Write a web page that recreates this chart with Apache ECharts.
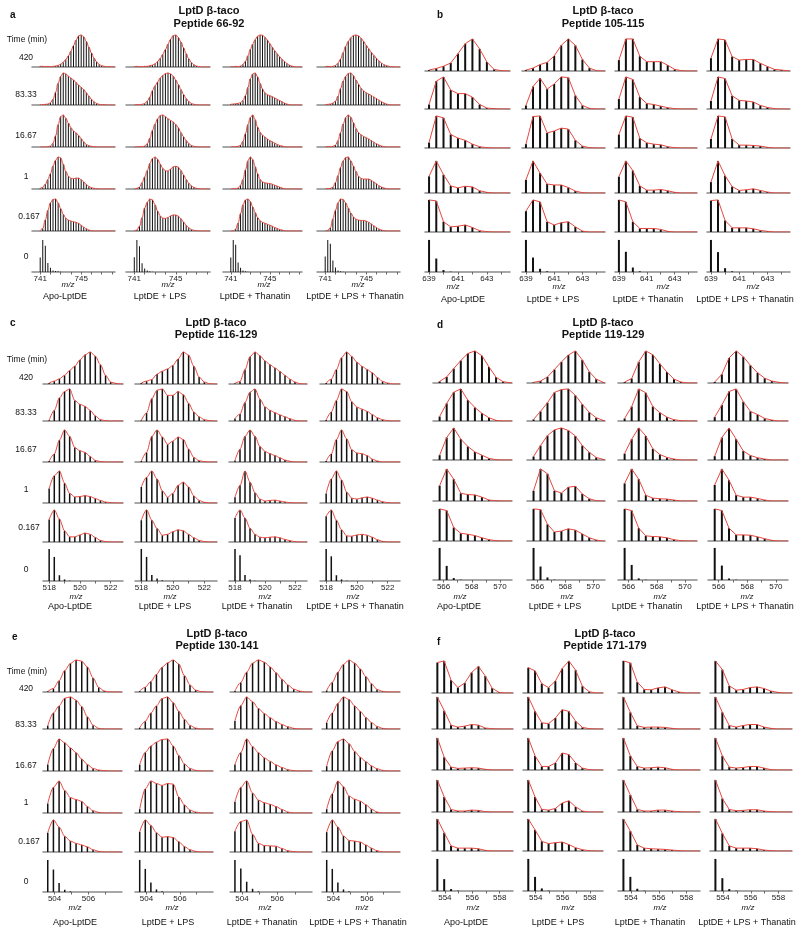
<!DOCTYPE html>
<html><head><meta charset="utf-8">
<script src="https://cdn.jsdelivr.net/npm/echarts@6/dist/echarts.min.js"></script>
<style>html,body{margin:0;padding:0;background:#fff}#c{width:800px;height:935px}</style>
</head><body><div id="c"></div>
<script>
// ---------- labels ----------
const timeLabels = ['420', '83.33', '16.67', '1', '0.167', '0'];
const conditions = ['Apo-LptDE', 'LptDE + LPS', 'LptDE + Thanatin', 'LptDE + LPS + Thanatin'];
const peptides = ['Peptide 66-92', 'Peptide 105-115', 'Peptide 116-129', 'Peptide 119-129', 'Peptide 130-141', 'Peptide 171-179'];
const protein = 'LptD \u03b2-taco';

// ---------- isotope stick intensities (rows: 420, 83.33, 16.67, 1, 0.167, 0 min) ----------
// panel a: first peak 741.00, spacing 0.25
const a_apo = [
 [2,2,1,2,1,2,3,5,9,15,23,35,50,67,84,97,100,94,80,62,44,28,16,8,4,2,1,1],
 [1,1,2,3,7,18,40,68,90,100,97,90,84,78,70,62,55,48,38,28,18,10,5,2,1,1,0,0],
 [0,0,0,1,3,12,35,70,95,100,90,75,60,50,44,36,26,16,8,4,2,1,0,0,0,0,0,0],
 [2,5,15,30,48,72,90,100,97,78,55,40,33,32,34,34,29,22,14,8,4,2,1,0,0,0,0,0],
 [1,8,35,65,88,98,100,88,70,52,40,34,31,29,27,24,18,12,7,3,1,0,0,0,0,0,0,0],
 [45,100,82,28,13,5,3,2,1]];
const a_lps = [
 [1,2,1,1,2,2,4,6,10,17,27,40,55,72,87,98,100,92,78,60,42,26,14,7,3,1,0,0],
 [0,1,1,2,5,12,25,45,60,72,84,92,98,100,97,90,78,64,48,33,20,11,5,2,1,0,0,0],
 [0,0,1,1,3,10,28,52,72,88,98,100,95,88,83,78,70,60,45,32,20,11,5,2,1,0,0,0],
 [0,2,6,20,38,58,80,95,100,93,78,64,57,56,62,69,71,68,58,44,30,18,10,5,2,1,0,0],
 [0,3,15,42,72,90,100,97,82,62,47,40,39,42,47,50,50,46,38,28,18,10,5,2,1,0,0,0],
 [46,100,80,27,11,5,2,1]];
const a_than = [
 [1,1,2,1,3,8,18,35,55,72,86,96,100,99,93,84,73,62,51,41,32,24,17,11,6,3,1,0],
 [2,3,4,5,8,14,30,55,82,97,100,88,68,50,38,32,29,26,22,18,14,10,6,3,1,0,0,0],
 [0,1,1,2,6,18,42,70,92,100,85,62,46,37,31,25,20,16,12,8,5,3,1,0,0,0,0,0],
 [0,1,1,3,12,30,60,88,100,92,70,48,30,22,19,18,17,15,12,9,6,3,1,0,0,0,0,0],
 [0,1,6,25,55,82,97,100,92,75,58,42,32,27,24,21,18,15,11,8,5,3,1,0,0,0,0,0],
 [45,100,85,30,13,5,2,1]];
const a_lpsthan = [
 [1,2,1,2,5,12,25,45,65,80,91,98,100,97,90,80,68,57,46,36,27,19,12,7,4,2,1,0],
 [1,2,3,6,12,28,52,75,90,98,100,92,78,65,52,44,38,34,30,25,20,15,10,6,3,1,0,0],
 [0,1,1,2,6,20,45,72,92,100,93,76,58,45,38,33,29,25,20,15,10,6,3,1,0,0,0,0],
 [0,1,2,6,20,42,68,88,98,100,88,72,55,40,33,31,31,31,27,22,16,10,6,3,1,0,0,0],
 [0,2,10,38,65,88,100,98,88,72,56,44,37,34,33,33,31,27,22,16,11,6,3,1,0,0,0,0],
 [48,100,88,36,14,5,2,1]];

// panel b: first peak 639.0, spacing 0.5
const b_apo = [
 [3,8,15,25,54,85,100,69,28,5,1],
 [14,87,100,59,48,48,37,14,3,1,0],
 [17,100,94,42,31,24,12,4,1,0,0],
 [52,100,57,22,16,21,19,7,2,0,0],
 [100,97,32,16,18,22,14,4,1,0,0],
 [100,42,6,1]];
const b_lps = [
 [3,9,20,27,47,80,100,80,36,9,1],
 [11,70,96,62,78,100,98,42,11,2,0],
 [12,98,100,47,53,62,59,24,6,1,0],
 [41,100,62,28,25,25,17,6,1,0,0],
 [65,100,94,32,22,29,32,16,3,0,0],
 [100,45,10,2]];
const b_than = [
 [34,100,100,46,29,29,29,18,5,1,0],
 [31,100,92,37,17,14,9,4,1,0,0],
 [42,100,96,30,16,12,10,4,1,0,0],
 [51,100,70,22,9,9,11,7,2,0,0],
 [100,94,32,11,11,11,8,2,0,0,0],
 [100,63,14,2]];
const b_lpsthan = [
 [40,100,97,45,34,36,36,24,14,5,3],
 [25,100,95,41,27,25,22,11,5,1,0],
 [28,100,97,28,9,9,8,6,2,0,0],
 [34,100,54,20,8,10,13,8,3,0,0],
 [98,100,36,13,13,13,10,5,2,0,0],
 [100,62,12,2]];

// panel c: first peak 518.0, spacing 1/3
const c_apo = [
 [3,9,16,27,42,56,75,91,100,87,60,27,6,2,0],
 [2,33,72,92,100,64,52,46,33,16,4,1,0,0,0],
 [3,25,68,100,80,45,35,30,17,5,1,0,0,0,0],
 [45,85,100,62,30,19,20,23,20,14,8,3,1,0,0],
 [70,100,72,35,16,16,22,28,24,14,5,1,0,0,0],
 [100,75,18,5,1]];
const c_lps = [
 [3,9,14,31,40,47,58,78,100,90,55,22,6,1,0],
 [2,25,70,96,100,80,80,92,82,55,28,13,4,1,0],
 [3,30,80,100,78,55,65,78,70,40,14,4,1,0,0],
 [50,80,100,75,38,18,30,55,65,50,22,8,2,0,0],
 [68,100,68,42,21,24,32,38,35,24,13,5,1,0,0],
 [100,75,19,8,2]];
const c_than = [
 [2,8,45,85,100,88,72,60,50,39,27,15,6,1,0],
 [8,22,58,90,100,68,44,33,26,19,13,7,2,0,0],
 [5,40,80,100,80,48,33,26,20,13,6,2,0,0,0],
 [18,55,100,65,32,12,6,8,9,6,3,1,0,0,0],
 [75,100,75,43,24,15,13,15,16,13,8,4,1,0,0],
 [100,80,19,5,1]];
const c_lpsthan = [
 [3,15,45,82,100,86,68,55,45,35,20,8,3,0,0],
 [3,28,64,100,92,60,43,37,30,20,10,4,1,0,0],
 [3,25,70,100,72,38,28,26,20,9,3,0,0,0,0],
 [30,75,100,72,34,15,12,16,19,15,9,4,1,0,0],
 [80,100,68,38,19,18,22,24,21,15,7,2,0,0,0],
 [100,77,18,5,1]];

// panel d: first peak 565.72, spacing 0.5
const d_apo = [
 [5,19,45,70,92,100,85,50,18,4,1],
 [14,55,90,100,65,42,24,10,2,0,0],
 [15,70,100,65,42,25,15,5,1,0,0],
 [48,100,68,24,20,19,12,3,1,0,0],
 [100,95,42,24,21,17,10,4,1,0,0],
 [100,44,6,1]];
const d_lps = [
 [2,6,19,42,66,87,100,72,35,12,2],
 [5,30,57,89,98,100,80,52,27,10,2],
 [11,45,76,94,100,92,75,45,24,8,2],
 [32,100,85,32,25,43,46,22,7,1,0],
 [100,98,52,28,31,38,34,22,10,3,0],
 [100,42,8,1]];
const d_than = [
 [3,14,66,100,88,60,34,12,3,0,0],
 [8,45,100,88,45,26,12,4,1,0,0],
 [20,65,100,75,35,17,8,3,0,0,0],
 [55,100,68,18,9,7,6,3,0,0,0],
 [100,95,40,16,14,13,10,4,1,0,0],
 [100,47,5,1]];
const d_lpsthan = [
 [3,27,78,100,82,55,32,15,6,2,0],
 [12,50,92,100,60,30,20,8,3,0,0],
 [12,70,100,65,28,14,7,3,0,0,0],
 [50,100,65,18,12,12,8,3,0,0,0],
 [100,95,40,19,19,18,13,7,2,0,0],
 [100,45,5,1]];

// panel e: first peak 503.6, spacing 1/3
const e_apo = [
 [2,11,35,67,89,100,96,78,44,14,3,0,0],
 [10,50,72,96,100,90,70,38,12,2,0,0,0],
 [20,70,100,88,72,57,37,20,8,3,1,0,0],
 [30,80,100,70,48,42,36,20,7,2,0,0,0],
 [60,100,78,49,34,27,22,16,7,2,0,0,0],
 [100,70,28,7,2]];
const e_lps = [
 [3,15,33,55,77,91,100,87,51,22,6,1,0],
 [4,24,50,72,95,100,82,55,30,11,3,0,0],
 [20,58,78,90,98,100,78,48,22,8,2,0,0],
 [12,75,100,92,86,92,90,50,25,9,3,0,0],
 [63,100,83,60,46,48,45,32,17,7,2,0,0],
 [100,72,30,8,2]];
const e_than = [
 [3,30,62,90,100,93,78,60,40,22,9,3,0],
 [25,73,100,85,64,48,35,23,14,7,2,0,0],
 [20,58,100,76,57,41,30,19,11,4,1,0,0],
 [35,80,100,62,40,32,27,20,11,3,0,0,0],
 [65,95,100,55,27,20,19,18,11,4,1,0,0],
 [100,73,32,10,2]];
const e_lpsthan = [
 [5,30,62,86,100,90,72,48,26,8,2,0,0],
 [20,50,80,100,92,72,55,36,20,8,2,0,0],
 [15,63,92,100,85,61,43,29,16,7,2,0,0],
 [12,60,100,82,53,43,37,26,12,3,0,0,0],
 [62,100,78,50,36,34,31,22,12,4,0,0,0],
 [100,72,30,8,2]];

// panel f: first peak 553.45, spacing 0.5
const f_apo = [
 [95,100,40,17,31,64,83,53,15,2,0],
 [100,57,12,6,9,14,12,3,1,0,0],
 [100,40,9,5,6,7,6,2,0,0,0],
 [100,47,8,3,3,6,5,1,0,0,0],
 [100,57,16,9,9,9,7,2,0,0,0],
 [100,37,6,1]];
const f_lps = [
 [79,69,29,17,37,76,100,71,21,4,0],
 [100,55,19,17,34,60,55,24,5,1,0],
 [100,44,11,11,22,53,48,22,6,1,0],
 [100,47,8,6,11,28,35,16,3,0,0],
 [100,66,30,23,26,28,20,10,4,1,0],
 [100,44,8,1]];
const f_than = [
 [100,94,34,11,10,16,19,10,3,0,0],
 [100,52,10,5,6,6,5,2,0,0,0],
 [100,44,11,6,7,9,7,2,0,0,0],
 [100,53,8,3,3,6,6,3,1,0,0],
 [100,62,19,9,7,6,5,3,1,0,0],
 [100,44,7,1]];
const f_lpsthan = [
 [100,73,22,9,11,17,19,14,6,2,0],
 [100,52,11,6,11,14,14,6,2,0,0],
 [100,44,9,6,8,11,11,6,1,0,0],
 [100,42,8,4,5,7,7,3,1,0,0],
 [100,55,16,9,9,9,7,3,1,0,0],
 [100,40,6,1]];

// m/z axis definitions
const a_mz = {start: 741.0, step: 0.25, min: 740.2, max: 748.3, ticks: [741,742,743,744,745,746,747,748], labels: [741, 745]};
const b_mz = {start: 639.0, step: 0.5, min: 638.72, max: 644.6, ticks: [639,640,641,642,643,644], labels: [639, 641, 643]};
const c_mz = {start: 518.0, step: 1/3, min: 517.6, max: 522.8, ticks: [518,519,520,521,522], labels: [518, 520, 522]};
const d_mz = {start: 565.72, step: 0.5, min: 565.25, max: 570.85, ticks: [566,567,568,569,570], labels: [566, 568, 570]};
const e_mz = {start: 503.6, step: 1/3, min: 503.32, max: 507.97, ticks: [504,505,506,507], labels: [504, 506]};
const f_mz = {start: 553.45, step: 0.5, min: 553.06, max: 558.97, ticks: [554,555,556,557,558], labels: [554, 556, 558]};

// ---------- layout (pixels) ----------
const panels = [
 {letter:'a', pep:peptides[0], data:[a_apo,a_lps,a_than,a_lpsthan], mz:a_mz,
  colLeft:[32,126,223,317], colWidth:[83,84,79,83], rowBase:[67,105,147,189,231,272],
  titleX:209, titleY:[11,24], letterPos:[10,15], timeY:[40,58,95,136,177,217,257],
  mzY:285, mzX:[68,168,264,358], condY:297, condX:[65,160,255,355], barW:1, smooth:0.5},
 {letter:'b', pep:peptides[1], data:[b_apo,b_lps,b_than,b_lpsthan], mz:b_mz,
  colLeft:[425,522,615,707], colWidth:[85,83,82,83], rowBase:[71,109,148,193,232,272],
  titleX:603, titleY:[11,24], letterPos:[437,15], timeY:null,
  mzY:287, mzX:[453,559,663,753], condY:300, condX:[463,553,648,745], barW:2, smooth:0},
 {letter:'c', pep:peptides[2], data:[c_apo,c_lps,c_than,c_lpsthan], mz:c_mz,
  colLeft:[43,135,229,320], colWidth:[80,82,78,80], rowBase:[384,421,462,503,542,581],
  titleX:216, titleY:[323,335], letterPos:[10,323], timeY:[360,378,413,450,490,528,570],
  mzY:597, mzX:[76,170,265,353], condY:607, condX:[70,165,257,355], barW:1.5, smooth:0.3},
 {letter:'d', pep:peptides[3], data:[d_apo,d_lps,d_than,d_lpsthan], mz:d_mz,
  colLeft:[433,527,618,708], colWidth:[79,78,79,80], rowBase:[383,421,460,501,541,580],
  titleX:603, titleY:[323,335], letterPos:[437,325], timeY:null,
  mzY:597, mzX:[460,567,660,747], condY:607, condX:[459,555,647,745], barW:2, smooth:0},
 {letter:'e', pep:peptides[4], data:[e_apo,e_lps,e_than,e_lpsthan], mz:e_mz,
  colLeft:[43,135,230,322], colWidth:[79,78,82,78], rowBase:[692,729,771,813,852,892],
  titleX:217, titleY:[634,646], letterPos:[12,637], timeY:[672,689,725,766,803,842,882],
  mzY:908, mzX:[75,172,265,362], condY:923, condX:[75,168,262,358], barW:1.5, smooth:0.3},
 {letter:'f', pep:peptides[5], data:[f_apo,f_lps,f_than,f_lpsthan], mz:f_mz,
  colLeft:[432,523,618,710], colWidth:[81,80,82,82], rowBase:[693,729,770,812,851,891],
  titleX:605, titleY:[634,646], letterPos:[437,642], timeY:null,
  mzY:908, mzX:[473,568,660,748], condY:923, condX:[466,558,650,747], barW:2, smooth:0}
];

const FONT = '"Liberation Sans", Arial, Helvetica, sans-serif';
const H = 34, YMAX = 106;
const grids = [], xAxes = [], yAxes = [], series = [], graphics = [];

function txt(x, y, text, o) {
  o = o || {};
  graphics.push({type:'text', x:x, y:y, silent:true, z:10, style:{
    text:text, fontFamily:FONT, fontSize:o.size || 9, fontWeight:o.bold ? 'bold' : 'normal',
    fontStyle:o.italic ? 'italic' : 'normal', fill:'#111', align:o.align || 'center', verticalAlign:'middle'}});
}

panels.forEach(p => {
  const m = p.mz;
  p.data.forEach((cond, c) => {
    cond.forEach((vals, r) => {
      const gi = grids.length;
      const base = p.rowBase[r];
      const bottom = (r === cond.length - 1);
      grids.push({left:p.colLeft[c], width:p.colWidth[c], top:base - H, height:H, containLabel:false});
      xAxes.push({type:'value', gridIndex:gi, min:m.min, max:m.max,
        axisLine:{show:true, onZero:false, lineStyle:{color:'#8a8a8a', width:1.5}},
        axisTick:{show:bottom, customValues:m.ticks, length:2.5, lineStyle:{color:'#666', width:1}},
        axisLabel:{show:bottom, customValues:m.labels, fontSize:8, margin:3, color:'#222', fontFamily:FONT},
        splitLine:{show:false}});
      yAxes.push({type:'value', gridIndex:gi, min:0, max:YMAX, show:false});
      const pts = vals.map((v, k) => [m.start + k * m.step, v]);
      series.push({type:'bar', xAxisIndex:gi, yAxisIndex:gi, data:pts, barWidth:p.barW,
        itemStyle:{color:'#111'}, silent:true, z:2});
      if (!bottom) {
        series.push({type:'line', xAxisIndex:gi, yAxisIndex:gi, data:pts.concat([[m.max, 0]]),
          smooth:p.smooth, smoothMonotone:'x', symbol:'none', showSymbol:false,
          lineStyle:{color:'#e5483f', width:1}, silent:true, z:3});
      }
    });
  });
  // texts
  txt(p.letterPos[0], p.letterPos[1], p.letter, {bold:true, size:10, align:'left'});
  txt(p.titleX, p.titleY[0], protein, {bold:true, size:11});
  txt(p.titleX, p.titleY[1], p.pep, {bold:true, size:11});
  if (p.timeY) {
    txt(27, p.timeY[0], 'Time (min)', {size:8.5});
    timeLabels.forEach((t, i) => txt(t === '0.167' ? 29 : 26, p.timeY[i + 1], t, {size:8.5}));
  }
  p.mzX.forEach(x => txt(x, p.mzY, 'm/z', {italic:true, size:8}));
  p.condX.forEach((x, i) => txt(x, p.condY, conditions[i], {size:9}));
});

const chart = echarts.init(document.getElementById('c'), null, {renderer:'canvas'});
chart.setOption({
  animation:false, backgroundColor:'#fff',
  grid:grids, xAxis:xAxes, yAxis:yAxes, series:series, graphic:graphics
});
</script></body></html>
